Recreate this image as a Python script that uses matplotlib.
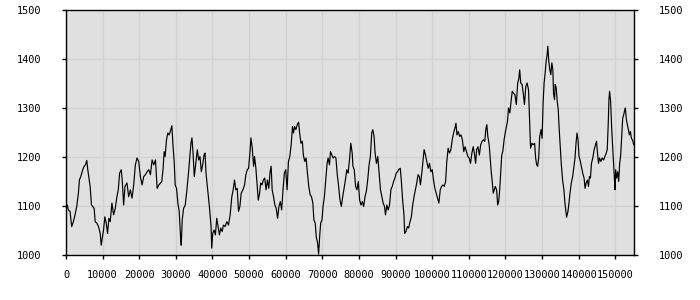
import matplotlib
matplotlib.use("Agg")
import matplotlib.pyplot as plt

x_vals = [
    0, 366, 640, 1098, 1556, 2013, 2471, 2928, 3386, 3660, 4026, 4300, 4575, 4941, 5307, 5673,
    5948, 6222, 6588, 6954, 7320, 7686, 7961, 8418, 8876, 9333, 9608, 9974, 10248, 10614, 10980,
    11346, 11712, 12078, 12536, 12993, 13451, 13908, 14274, 14640, 15098, 15372, 15738, 16104,
    16653, 17111, 17568, 18026, 18483, 18941, 19398, 19856, 20313, 20771, 21228, 21686, 22143,
    22601, 23058, 23516, 23973, 24431, 24888, 25346,
    26157, 26523, 26798, 27072, 27438, 27804, 28170, 28628, 28902, 29268, 29543, 29817, 30183,
    30549, 30915, 31281, 31464, 31739, 32105, 32562, 33020, 33477, 33843, 34118, 34392, 34667,
    35033, 35490, 35856, 36222, 36588, 36954, 37320, 37686, 37961, 38235, 38693, 39150, 39608,
    39791, 40065, 40431, 40797, 41163, 41529, 41895, 42261, 42627, 42993, 43451, 43908, 44366,
    44823, 45281, 45647, 46013, 46379, 46745, 47111, 47477, 47843, 48300, 48758, 49124, 49490,
    49856, 50222, 50496, 50862, 51228,
    51481, 51851, 52222, 52500, 52870, 53148, 53518, 53888, 54259, 54629, 55000, 55370, 55740,
    56018, 56296, 56666, 57037, 57407, 57778, 58148, 58518, 58889, 59259, 59630, 60000, 60370,
    60741, 61111, 61482, 61852, 62130, 62408, 62778, 63148, 63519, 63797, 64167, 64537, 64815,
    65186, 65556, 65926, 66297, 66667, 67038, 67408, 67686, 68056, 68334, 68704, 68982, 69260,
    69538, 69908, 70186, 70556, 70927, 71297, 71575, 71945, 72223, 72594, 72964, 73334, 73705,
    74075, 74445, 74816, 75186, 75557, 75927, 76298, 76668, 77038, 77409, 77779, 78150,
    78349, 78716, 79083, 79450, 79817, 80183, 80550, 80917, 81284, 81651, 82017, 82384, 82751,
    83118, 83485, 83760, 84127, 84402, 84768, 85135, 85502, 85869, 86236, 86602, 86969, 87244,
    87611, 87978, 88345, 88712, 89078, 89445, 89812, 90179, 90546, 90912, 91279, 91554, 91921,
    92288, 92471, 92838, 93205, 93572, 93938, 94305, 94672, 95039, 95406, 95772, 96139, 96506,
    96781, 97148, 97515, 97790, 98157, 98523, 98890, 99257, 99624, 99991, 100357, 100724,
    101091, 101458, 101825, 102191, 102558, 102925, 103292, 103659,
    103981, 104351, 104722, 105092, 105463, 105833, 106204, 106481, 106759, 107130, 107500,
    107870, 108241, 108611, 108981, 109352, 109722, 110093, 110463, 110833, 111204, 111574,
    111852, 112130, 112500, 112871, 113241, 113611, 113982, 114352, 114630, 114908, 115186,
    115556, 115834, 116112, 116389, 116667, 116945, 117223, 117593, 117871, 118149, 118427,
    118704, 118982, 119260, 119630, 120001, 120279, 120556, 120834, 121205, 121575, 121853,
    122223, 122594, 122964, 123334, 123612, 123890, 124168, 124538, 124909, 125186, 125557,
    125927, 126298, 126575, 126853, 127224, 127594, 127964, 128242, 128520, 128798, 129076,
    129353, 129724, 130002, 130279,
    130555, 130830, 131105, 131380, 131564, 131839, 132114, 132389, 132664, 132939, 133123,
    133398, 133581, 133856, 134131, 134406, 134681, 134957, 135232, 135598, 135965, 136240,
    136515, 136699, 137066, 137341, 137616, 137983, 138349, 138716, 138991, 139266, 139542,
    139817, 140092, 140459, 140734, 141100, 141467, 141742, 142017, 142384, 142659, 142934,
    143210, 143485, 143851, 144218, 144585, 144860, 145135, 145410, 145685, 146052, 146419,
    146786, 147153, 147519, 147795, 148070, 148253, 148436, 148711, 148987, 149262, 149537,
    149720, 149904, 150087, 150362, 150637, 150912, 151187, 151463, 151738, 152013, 152288,
    152563, 152746, 153022, 153297, 153572, 153847, 154122, 154397, 154672, 155039,
]

y_vals = [
    1100, 1102, 1092, 1089, 1058, 1068, 1082, 1099, 1126, 1153, 1160, 1167, 1174, 1181, 1184, 1193,
    1174, 1160, 1140, 1102, 1099, 1095, 1068, 1065, 1058, 1044, 1020, 1037, 1051, 1078, 1065,
    1044, 1075, 1068, 1106, 1082, 1095, 1119, 1133, 1167, 1174, 1150, 1102, 1140,
    1147, 1119, 1133, 1116, 1143, 1184, 1198, 1191, 1160, 1143, 1160, 1164, 1170,
    1174, 1164, 1194, 1184, 1194, 1136, 1143,
    1150, 1177, 1211, 1201, 1235, 1249, 1245, 1256, 1264, 1218, 1191, 1143, 1136,
    1106, 1089, 1037, 1020, 1072, 1095, 1102, 1133, 1170, 1204, 1228, 1239, 1211,
    1160, 1191, 1215, 1194, 1201, 1170, 1184, 1204, 1208, 1167, 1133, 1099, 1058,
    1014, 1044, 1051, 1041, 1075, 1058, 1041, 1055, 1048, 1061, 1058, 1068, 1061,
    1082, 1119, 1133, 1153, 1133, 1136, 1089, 1099, 1126, 1133, 1143, 1164, 1174,
    1177, 1208, 1239, 1218, 1181,
    1201, 1177, 1140, 1112, 1126, 1147, 1143, 1153, 1157, 1133, 1153, 1136, 1170,
    1181, 1133, 1119, 1102, 1095, 1075, 1099, 1109, 1092, 1133, 1167, 1174, 1133,
    1191, 1201, 1225, 1262, 1249, 1262, 1256, 1266, 1271, 1249, 1228, 1232, 1204,
    1191, 1198, 1167, 1140, 1123, 1119, 1106, 1072, 1065, 1037, 1024, 1002, 1037,
    1065, 1072, 1099, 1119, 1153, 1187, 1198, 1184, 1211, 1204, 1198, 1201, 1198,
    1164, 1140, 1112, 1099, 1119, 1136, 1153, 1174, 1167, 1194, 1228, 1208,
    1181, 1174, 1140, 1133, 1150, 1112, 1102, 1109, 1099, 1119, 1130, 1153, 1184,
    1201, 1249, 1256, 1242, 1208, 1187, 1201, 1167, 1133, 1119, 1106, 1099, 1082,
    1102, 1092, 1102, 1133, 1140, 1150, 1157, 1167, 1170, 1175, 1177, 1153, 1112,
    1082, 1044, 1048, 1058, 1055, 1068, 1078, 1102, 1119, 1133, 1147, 1164, 1160,
    1143, 1167, 1194, 1215, 1204, 1191, 1177, 1187, 1170, 1174, 1153, 1136,
    1126, 1116, 1106, 1133, 1140, 1143, 1140, 1150,
    1191, 1218, 1208, 1215, 1235, 1249, 1259, 1269, 1245, 1252, 1242,
    1245, 1235, 1211, 1221, 1211, 1201, 1198, 1187, 1208, 1221, 1204,
    1187, 1215, 1221, 1204, 1225, 1232, 1235, 1232, 1256, 1266, 1242,
    1225, 1198, 1170, 1150, 1126, 1133, 1140, 1133, 1102, 1109, 1133,
    1167, 1204, 1211, 1235, 1252, 1262, 1273, 1300, 1290, 1317, 1334,
    1330, 1327, 1307, 1351, 1358, 1378, 1351, 1348, 1327, 1307, 1344,
    1351, 1337, 1276, 1218, 1228, 1225, 1228, 1198, 1184, 1181, 1198,
    1242, 1256, 1238, 1310,
    1351, 1371, 1395, 1409, 1426, 1395, 1378, 1368, 1392, 1378, 1330,
    1317, 1348, 1341, 1314, 1297, 1256, 1222, 1187, 1153, 1133, 1106,
    1089, 1077, 1089, 1106, 1126, 1147, 1160, 1181, 1198, 1228, 1249,
    1235, 1201, 1191, 1181, 1167, 1157, 1136, 1147, 1153, 1140, 1160,
    1157, 1187, 1198, 1215, 1225, 1232, 1208, 1187, 1198, 1191, 1198,
    1194, 1201, 1208, 1215, 1269, 1317, 1334, 1314, 1262, 1222, 1187,
    1160, 1133, 1174, 1157, 1170, 1150, 1187, 1204, 1242, 1279, 1286,
    1296, 1300, 1276, 1266, 1256, 1245, 1252, 1238, 1235, 1225,
]

x_ticks = list(range(0, 150001, 10000))
y_ticks = [1000, 1100, 1200, 1300, 1400, 1500]

FS = 7.4
fig = plt.figure(figsize=(7, 3), dpi=100)
ax = fig.add_axes([66 / 700, 45 / 300, 568 / 700, 245 / 300])
ax.set_facecolor("#e0e0e0")
ax.plot(x_vals, y_vals, color="black", linewidth=0.85)

ax.set_xlim(0, 155100)
ax.set_ylim(1000, 1500)
ax.set_xticks(x_ticks)
ax.set_xticklabels([str(t) for t in x_ticks])
ax.set_yticks(y_ticks)
ax.set_yticklabels([str(t) for t in y_ticks])

ax.grid(True, color="#d2d2d2", linewidth=1.0)
ax.set_axisbelow(True)
for s in ax.spines.values():
    s.set_color("black")
    s.set_linewidth(1.0)

ax.tick_params(axis="y", which="both", left=True, right=True, labelleft=True,
               labelright=True, direction="out", length=3, width=1, pad=15,
               labelsize=FS, colors="black")
ax.tick_params(axis="x", direction="out", length=3, width=1, pad=8,
               labelsize=FS, colors="black")
for t in ax.xaxis.get_major_ticks():
    t.label1.set_family("DejaVu Sans Mono")
for t in ax.yaxis.get_major_ticks():
    t.label1.set_family("DejaVu Sans Mono")
    t.label2.set_family("DejaVu Sans Mono")
    t.label2.set_fontsize(FS)

fig.savefig("out.png", dpi=100)
